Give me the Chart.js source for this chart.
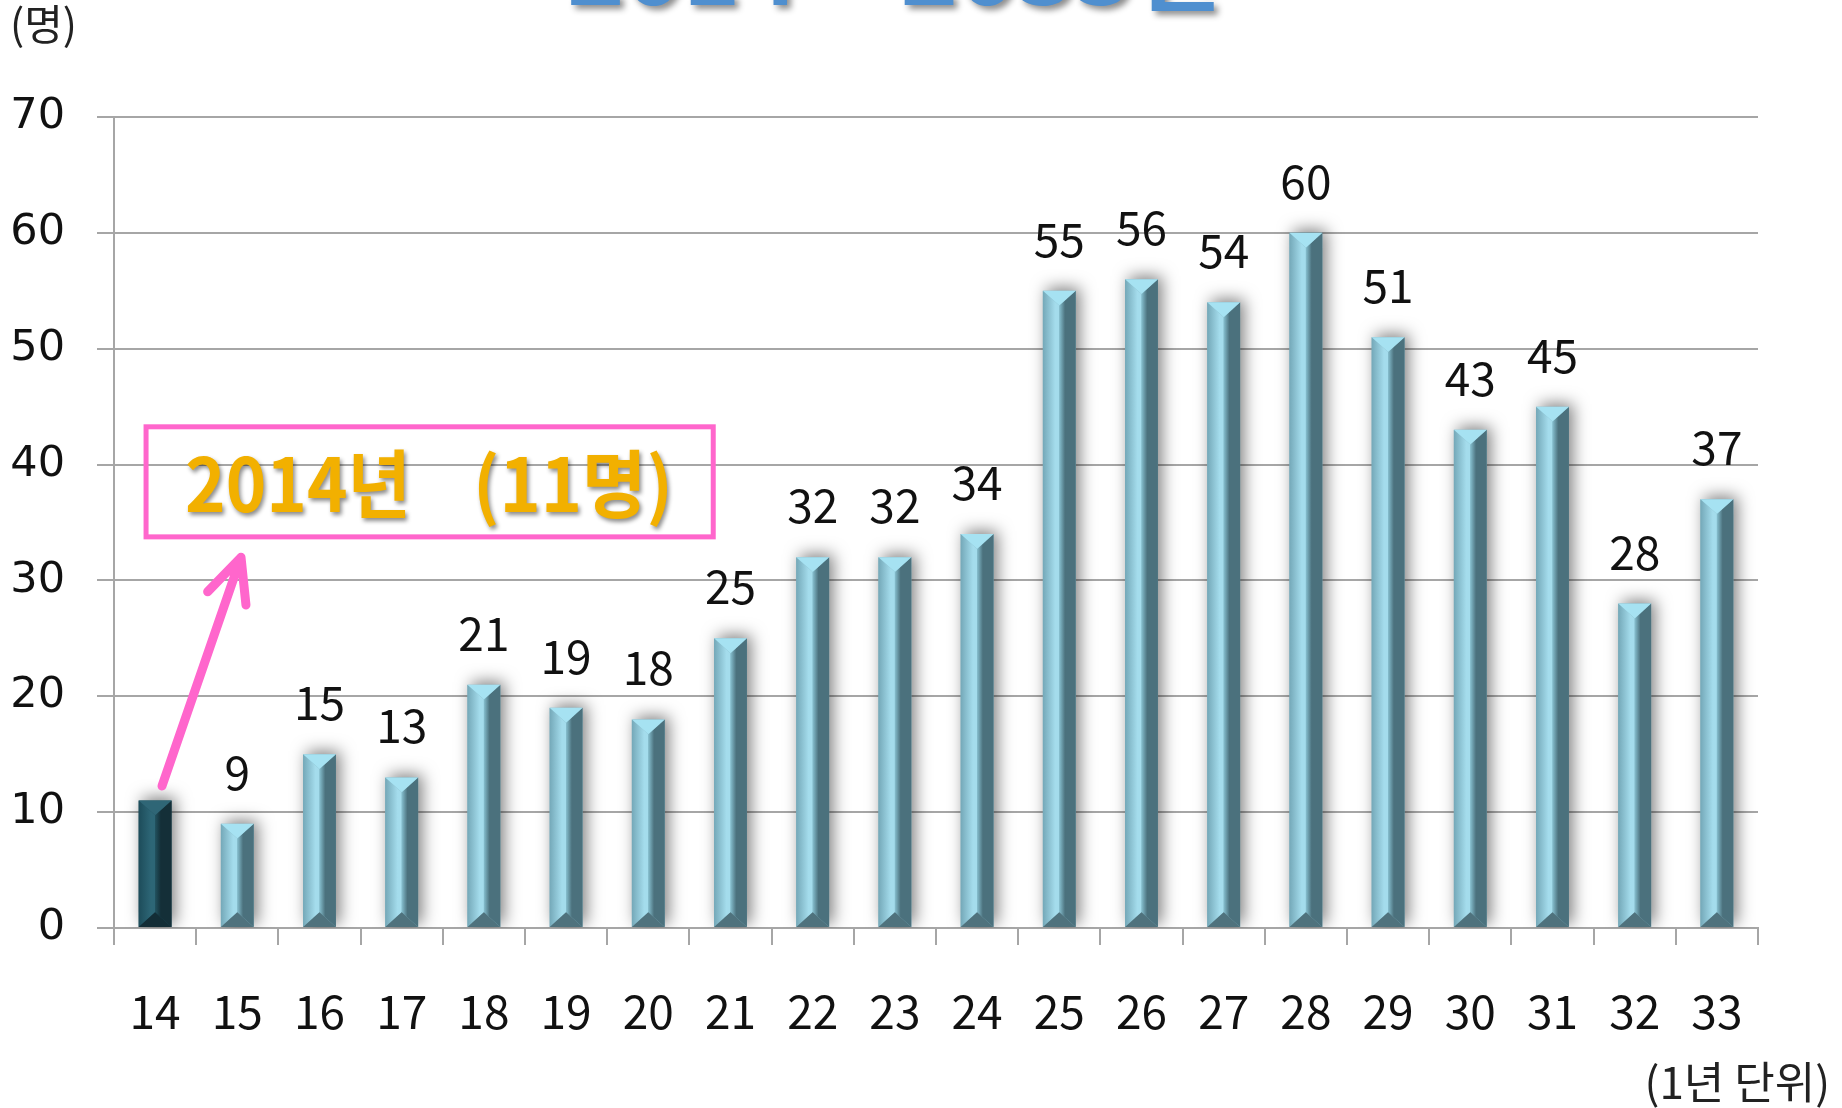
<!DOCTYPE html>
<html>
<head>
<meta charset="utf-8">
<script src="https://cdn.jsdelivr.net/npm/chart.js@4.4.1/dist/chart.umd.min.js"></script>
<style>
  html, body { margin: 0; background: #fff; }
  #wrap { width: 1842px; height: 1108px; position: relative; }
</style>
</head>
<body>
<div id="wrap"><canvas id="myChart"></canvas></div>
<script>
// yearly counts, 2014 ~ 2033 (two-digit year on the axis)
const years = ['14', '15', '16', '17', '18', '19', '20', '21', '22', '23',
               '24', '25', '26', '27', '28', '29', '30', '31', '32', '33'];
const counts = [11, 9, 15, 13, 21, 19, 18, 25, 32, 32, 34, 55, 56, 54, 60, 51, 43, 45, 28, 37];
const yMax = 70;
const yStep = 10;
const highlightIndex = 0;

const titleText = '2014 ~ 2033년';
const yUnitText = '(명)';
const xUnitText = '(1년 단위)';
const calloutParts = ['2014년', '(11명)'];

const KR = '"Noto Sans CJK KR", "Noto Sans", sans-serif';
const GRID = '#a6a6a6';

// bevelled bars with soft shadow
const bevelBars = {
    id: 'bevelBars',
    beforeDatasetsDraw(chart) {
        const c = chart.ctx;
        c.save();
        c.shadowColor = 'rgba(0,0,0,0.5)';
        c.shadowBlur = 16;
        c.shadowOffsetX = 4;
        c.shadowOffsetY = -3;
    },
    afterDatasetsDraw(chart) {
        const c = chart.ctx;
        c.restore();
        chart.getDatasetMeta(0).data.forEach((bar, i) => {
            const p = bar.getProps(['x', 'y', 'base', 'width'], true);
            const L = p.x - p.width / 2, R = p.x + p.width / 2, T = p.y, B = p.base;
            const d = Math.min(p.width * 0.45, (B - T) / 2);
            const dark = i === highlightIndex;
            const col = dark
                ? { l0: '#1d4c5a', l1: '#2d6676', r0: '#22525f', r1: '#142f38', top: '#2f6676', bot: '#132d36' }
                : { l0: '#74a8b8', l1: '#a4dcec', r0: '#86bfcf', r1: '#4b717d', top: '#a6e2f2', bot: '#4f727d' };
            c.save();
            let g = c.createLinearGradient(L, 0, p.x, 0);
            g.addColorStop(0, col.l0); g.addColorStop(0.75, col.l1); g.addColorStop(1, col.l1);
            c.fillStyle = g;
            c.beginPath(); c.moveTo(L, T); c.lineTo(p.x, T + d); c.lineTo(p.x, B - d); c.lineTo(L, B); c.closePath(); c.fill();
            g = c.createLinearGradient(p.x, 0, R, 0);
            g.addColorStop(0, col.r0); g.addColorStop(0.35, col.r1); g.addColorStop(1, col.r1);
            c.fillStyle = g;
            c.beginPath(); c.moveTo(R, T); c.lineTo(p.x, T + d); c.lineTo(p.x, B - d); c.lineTo(R, B); c.closePath(); c.fill();
            c.fillStyle = col.top;
            c.beginPath(); c.moveTo(L, T); c.lineTo(R, T); c.lineTo(p.x, T + d); c.closePath(); c.fill();
            c.fillStyle = col.bot;
            c.beginPath(); c.moveTo(L, B); c.lineTo(R, B); c.lineTo(p.x, B - d); c.closePath(); c.fill();
            c.restore();
        });
        // value labels
        c.save();
        c.font = '46px ' + KR;
        c.fillStyle = '#111';
        c.textAlign = 'center';
        c.textBaseline = 'alphabetic';
        chart.getDatasetMeta(0).data.forEach((bar, i) => {
            if (i === highlightIndex) return;
            c.fillText(String(counts[i]), bar.x, bar.y - 34);
        });
        c.restore();
    }
};

// title (cut at top), unit texts, callout box with arrow
const extras = {
    id: 'extras',
    afterDraw(chart) {
        const c = chart.ctx;
        const xs = chart.scales.x, ys = chart.scales.y;
        c.save();
        // title, mostly above the canvas edge
        c.font = 'bold 84px ' + KR;
        const tw = c.measureText(titleText).width;
        c.translate(567, 5);
        c.scale(655 / tw, 1);
        c.shadowColor = 'rgba(0,0,0,0.45)'; c.shadowBlur = 6; c.shadowOffsetX = 4; c.shadowOffsetY = 4;
        c.fillStyle = '#4f8fcf';
        c.textBaseline = 'alphabetic';
        c.fillText(titleText, 0, 0);
        c.restore();

        c.save();
        c.fillStyle = '#222';
        c.font = '42px ' + KR;
        c.textBaseline = 'alphabetic';
        c.textAlign = 'left';
        c.fillText(yUnitText, 10, 40);
        c.font = '44px ' + KR;
        c.textAlign = 'right';
        c.fillText(xUnitText, 1830, 1099);
        c.restore();

        // callout box
        const bx0 = xs.getPixelForValue(-0.11), bx1 = xs.getPixelForValue(6.79);
        const by0 = ys.getPixelForValue(43.26), by1 = ys.getPixelForValue(33.76);
        c.save();
        c.strokeStyle = '#ff66cc';
        c.lineWidth = 5;
        c.strokeRect(bx0, by0, bx1 - bx0, by1 - by0);

        const ty = ys.getPixelForValue(38.3);
        c.font = 'bold 74px ' + KR;
        c.textBaseline = 'middle';
        c.textAlign = 'left';
        const g = c.createLinearGradient(0, ty - 28, 0, ty + 28);
        g.addColorStop(0, '#f2b000');
        g.addColorStop(0.5, '#f09400');
        g.addColorStop(1, '#ee6a00');
        c.fillStyle = g;
        c.shadowColor = 'rgba(0,0,0,0.45)'; c.shadowBlur = 4; c.shadowOffsetX = 2; c.shadowOffsetY = 3;
        const w0 = c.measureText(calloutParts[0]).width;
        c.save(); c.translate(185, ty); c.scale(226 / w0, 1); c.fillText(calloutParts[0], 0, 0); c.restore();
        const w1 = c.measureText(calloutParts[1]).width;
        c.save(); c.translate(473, ty); c.scale(200 / w1, 1); c.fillText(calloutParts[1], 0, 0); c.restore();
        c.restore();

        // arrow from the highlighted bar to the box
        const ax0 = xs.getPixelForValue(highlightIndex + 0.084), ay0 = ys.getPixelForValue(12.26);
        const ax1 = xs.getPixelForValue(highlightIndex + 1.045), ay1 = ys.getPixelForValue(32.0);
        const ang = Math.atan2(ay0 - ay1, ax0 - ax1);
        const hl = 48, spread = 25 * Math.PI / 180;
        c.save();
        c.strokeStyle = '#ff66cc';
        c.lineWidth = 9;
        c.lineCap = 'round';
        c.lineJoin = 'round';
        c.beginPath();
        c.moveTo(ax0, ay0); c.lineTo(ax1, ay1);
        c.moveTo(ax1 + hl * Math.cos(ang + spread), ay1 + hl * Math.sin(ang + spread));
        c.lineTo(ax1, ay1);
        c.lineTo(ax1 + hl * Math.cos(ang - spread), ay1 + hl * Math.sin(ang - spread));
        c.stroke();
        c.restore();
    }
};

const ctx = document.getElementById('myChart').getContext('2d');
const myChart = new Chart(ctx, {
    type: 'bar',
    data: {
        labels: years,
        datasets: [{
            data: counts,
            backgroundColor: counts.map((v, i) => i === highlightIndex ? '#1d4c5a' : '#7fb2c0'),
            borderWidth: 0,
            barPercentage: 0.4,
            categoryPercentage: 1.0
        }]
    },
    options: {
        responsive: true,
        maintainAspectRatio: false,
        animation: false,
        layout: { padding: { top: 117, right: 84, left: 0, bottom: 0 } },
        plugins: {
            legend: { display: false },
            tooltip: { enabled: false }
        },
        scales: {
            x: {
                afterFit: (s) => { s.height = 180; },
                grid: { display: true, drawOnChartArea: false, drawTicks: true, tickLength: 17, color: GRID, lineWidth: 2, offset: true },
                border: { display: true, color: GRID, width: 2 },
                ticks: { color: '#111', font: { family: KR, size: 46 }, padding: 39, autoSkip: false, maxRotation: 0 }
            },
            y: {
                min: 0,
                max: yMax,
                afterFit: (s) => { s.width = 114; },
                grid: { color: GRID, lineWidth: 2, tickLength: 17 },
                border: { display: true, color: GRID, width: 2 },
                ticks: { stepSize: yStep, color: '#111', font: { family: 'DejaVu Sans', size: 43 }, padding: 32 }
            }
        }
    },
    plugins: [bevelBars, extras]
});
</script>
</body>
</html>
